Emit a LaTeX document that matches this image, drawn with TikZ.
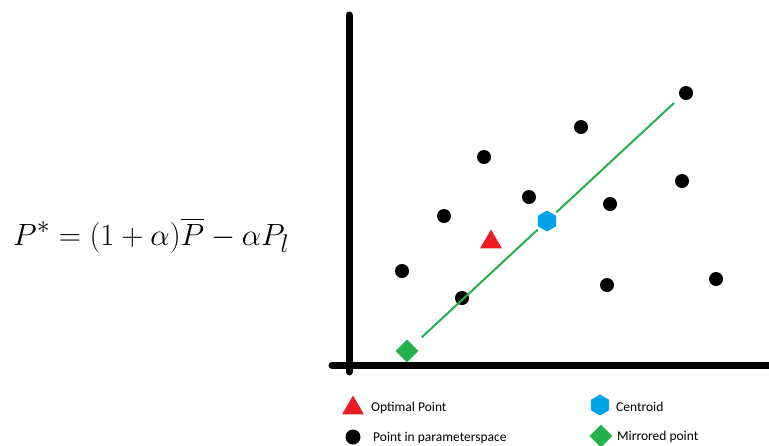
\documentclass[tikz,border=0pt]{standalone}
\usepackage{amsmath,amssymb}
\usepackage[no-math]{fontspec}
\newfontfamily\legendfont{Carlito}
\usepackage{tikz}
\usetikzlibrary{shapes.geometric}

\definecolor{paintred}{RGB}{237,28,36}
\definecolor{paintblue}{RGB}{0,162,232}
\definecolor{paintgreen}{RGB}{34,177,76}

\begin{document}
\begin{tikzpicture}[x=1pt, y=-1pt,
	dot/.style={circle, fill=black, inner sep=0pt, minimum size=14pt},
	optimum/.style={regular polygon, regular polygon sides=3, fill=paintred, inner sep=0pt, minimum size=25pt},
	centroid/.style={regular polygon, regular polygon sides=6, shape border rotate=30, fill=paintblue, inner sep=0pt, minimum size=21pt},
	mirrored/.style={diamond, fill=paintgreen, inner sep=0pt, minimum width=23pt, minimum height=23pt},
	axis/.style={line width=7pt, line cap=round},
	mirrorline/.style={paintgreen, line width=2pt},
	legendtext/.style={anchor=base west, inner sep=0pt, font=\legendfont\fontsize{13.5}{16}\selectfont}]
			\useasboundingbox (0,0) rectangle (769,445);
			
			% Formula di riflessione
			\node[anchor=base west, inner sep=0pt, scale=1.237] (formula) at (13,245)
				{\fontsize{24.88}{30}\selectfont $P^{*} = (1+\alpha)\overline{P} - \alpha P_l$};
			
			% Assi
			\coordinate (O)  at (349,365);
			\coordinate (Y)  at (349,15);
			\coordinate (X)  at (775,365);
			\draw[axis] (O) ++(0,7) -- (Y);
			\draw[axis] (O) ++(-17,0) -- (X);
			
			% Punti nello spazio dei parametri
			\node[dot] (p1)  at (402,271) {};
			\node[dot] (p2)  at (444,216) {};
			\node[dot] (p3)  at (484,157) {};
			\node[dot] (p4)  at (462,298) {};
			\node[dot] (p5)  at (529,197) {};
			\node[dot] (p6)  at (581,127) {};
			\node[dot] (p7)  at (610,204) {};
			\node[dot] (p8)  at (607,285) {};
			\node[dot] (p9)  at (682,181) {};
			\node[dot] (p10) at (716,279) {};
			\node[dot] (p11) at (686,93)  {};
			
			% Punto ottimo, centroide e punto riflesso
			\node[optimum] (opt) at (491,242) {};
			\node[mirrored] (mirror) at (407,351) {};
			\node[centroid, outer sep=3pt] (cent) at (547,221) {};
			\coordinate (lineend) at (674,103);
			
			% Linea di riflessione
			\draw[mirrorline, shorten <=12pt] (mirror) -- (cent);
			\draw[mirrorline] (cent) -- (lineend);
			
			% Legenda
			\node[optimum] (legopt) at (353,408) {};
			\node[legendtext] (legopttext) at (371,411.5) {Optimal Point};
			\node[dot, minimum size=15pt] (legdot) at (353,437) {};
			\node[legendtext] (legdottext) at (373,441) {Point in parameterspace};
			\node[centroid] (legcent) at (600,405) {};
			\node[legendtext] (legcenttext) at (616,411) {Centroid};
			\node[mirrored] (legmirror) at (601,436) {};
			\node[legendtext] (legmirrortext) at (617,440.5) {Mirrored point};
		\end{tikzpicture}
\end{document}
